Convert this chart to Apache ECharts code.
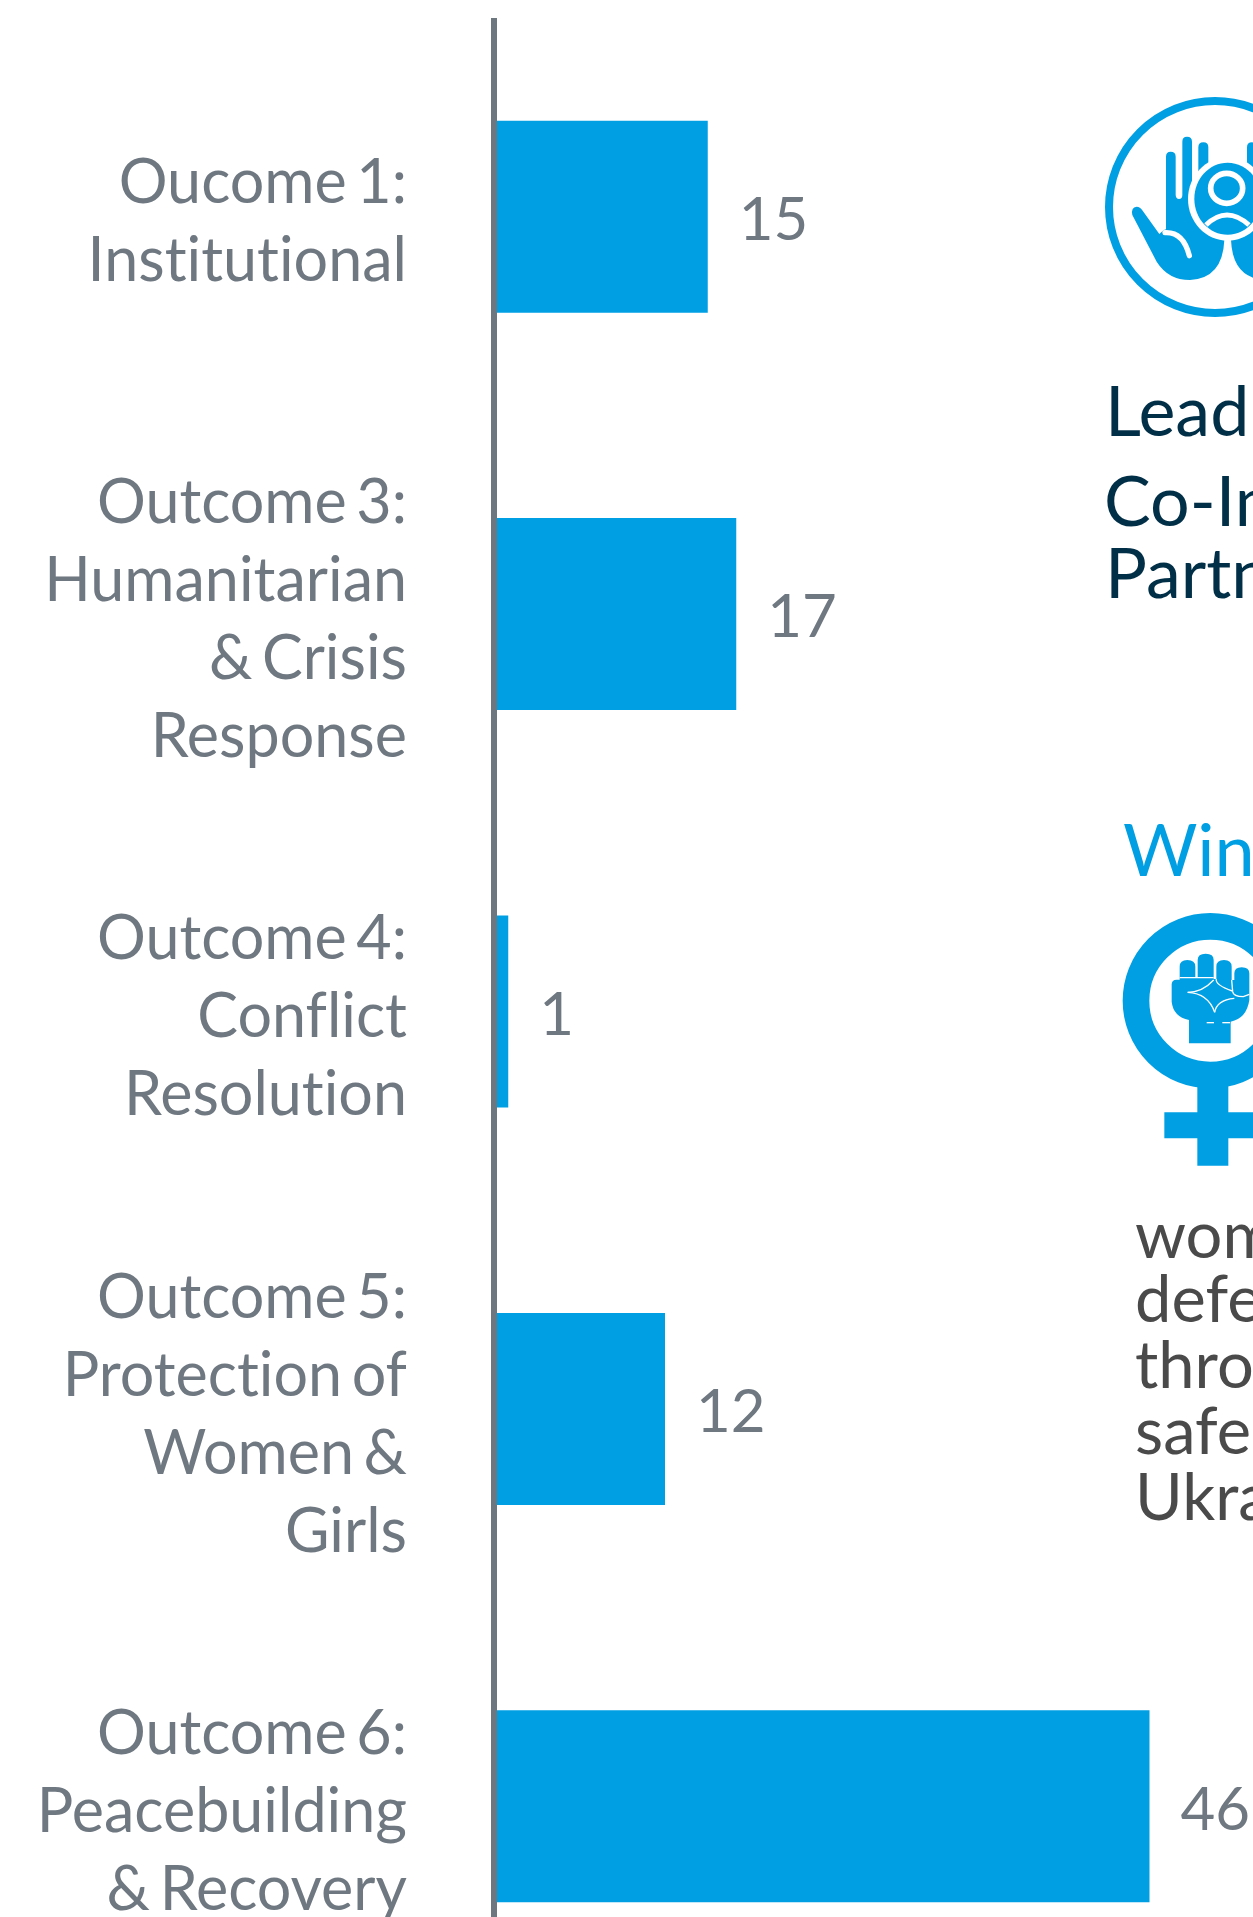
<!DOCTYPE html>
<html>
<head>
<meta charset="utf-8">
<style>html,body{margin:0;padding:0;background:#fff;overflow:hidden}#c{width:1253px;height:1917px}</style>
<script src="https://cdn.jsdelivr.net/npm/echarts@6/dist/echarts.min.js"></script>
</head>
<body>
<div id="c"></div>
<script>
const categories = [
  'Oucome 1:\nInstitutional',
  'Outcome 3:\nHumanitarian\n& Crisis\nResponse',
  'Outcome 4:\nConflict\nResolution',
  'Outcome 5:\nProtection of\nWomen &\nGirls',
  'Outcome 6:\nPeacebuilding\n& Recovery'
];
const values = [15, 17, 1, 12, 46];

const BLUE = '#009fe3', GREY = '#6f7881', FONT = 'Lato';

// The reference sets its text without the "ti" ligature and with a narrow word space.
const ctxProto = CanvasRenderingContext2D.prototype, rawFillText = ctxProto.fillText;
ctxProto.fillText = function () { this.letterSpacing = '0.01px'; this.wordSpacing = '-6px'; return rawFillText.apply(this, arguments); };

let shapeCount = 0;
function pathEl(d, style) {
  const name = 'iconShape' + (shapeCount++);
  echarts.graphic.registerShape(name, echarts.graphic.extendPath(d, {}));
  return { type: name, style };
}

const handPath = 'M97,375 Q92,352 110,350 Q120,350 128,362 L178,432 Q190,420 198,418 L198,200 Q198,185 212,185 Q227,185 227,200 L227,315 Q228,327 237,327 Q247,327 247,315 L247,155 Q247,140 261,140 Q276,140 276,155 L276,300 L295,260 L295,172 Q295,157 310,157 Q325,157 325,172 L325,240 L373,400 L373,450 Q368,565 270,570 Q205,570 170,515 Z';
const slitPath = 'M195,428 Q250,425 268,497';

function hand(mirror) {
  return { type: 'group', x: mirror ? 1100 + 766 / 3 : 1100, y: 90, scaleX: mirror ? -1 / 3 : 1 / 3, scaleY: 1 / 3, children: [
    pathEl(handPath, { fill: BLUE }),
    pathEl(slitPath, { fill: null, stroke: '#fff', lineWidth: 16, lineCap: 'round' })
  ]};
}

const fistPath = 'M170,238 Q170,224 185,224 L194,224 L194,185 Q194,165 217,165 Q241,165 241,185 L241,218 L248,218 L248,165 Q248,146 272,146 Q296,146 296,165 L296,222 L304,222 L304,185 Q304,165 327,165 Q350,165 350,185 L350,225 L358,225 L358,205 Q358,187 380,187 Q403,187 403,205 L403,285 Q395,340 347,350 L347,415 L222,415 L222,345 Q175,335 170,290 Z';
const fistLines = [
  'M194,218 L296,218', 'M218,262 Q262,262 296,225', 'M218,262 Q280,265 299,322',
  'M299,322 Q305,285 358,280', 'M304,222 Q300,240 352,258', 'M350,225 L353,260 Q355,275 385,275 L403,268',
  'M275,353 L297,353', 'M322,353 L345,353'
];

function txt(t, x, baseline, size, color) {
  return { type: 'text', x, y: baseline + 0.18 * size, silent: true, style: { text: t, x: 0, y: 0, fill: color, font: size + 'px ' + FONT, textAlign: 'left', textVerticalAlign: 'bottom' } };
}

const chart = echarts.init(document.getElementById('c'), null, { renderer: 'canvas' });
chart.setOption({
  animation: false,
  backgroundColor: '#fff',
  grid: [
    { left: 494, top: 18, width: 712.5, height: 1987, outerBoundsMode: 'none' },
    { left: 494, top: 24, width: 712.5, height: 1987, outerBoundsMode: 'none' }
  ],
  xAxis: [
    { type: 'value', gridIndex: 0, min: 0, max: 50, interval: 10, show: false },
    { type: 'value', gridIndex: 1, min: 0, max: 50, interval: 10, show: false }
  ],
  yAxis: [
    {
      type: 'category', gridIndex: 0, inverse: true, data: categories, z: 3,
      axisLine: { show: true, lineStyle: { color: '#6d7780', width: 6, cap: 'butt' } },
      axisTick: { show: false }, axisLabel: { show: false }
    },
    {
      type: 'category', gridIndex: 1, inverse: true, data: categories,
      axisLine: { show: false }, axisTick: { show: false },
      axisLabel: { interval: 0, margin: 87, color: GREY, fontFamily: FONT, fontSize: 61, lineHeight: 78, align: 'right', verticalAlign: 'middle' }
    }
  ],
  series: [{
    type: 'bar', xAxisIndex: 0, yAxisIndex: 0, data: values, barWidth: 192,
    itemStyle: { color: BLUE },
    label: { show: true, position: 'right', distance: 31, offset: [0, 4], color: GREY, fontFamily: FONT, fontSize: 60 }
  }],
  graphic: [
    { type: 'circle', shape: { cx: 1215, cy: 207, r: 106 }, style: { fill: null, stroke: BLUE, lineWidth: 8 } },
    hand(false), hand(true),
    { type: 'group', x: 1100, y: 90, scaleX: 1 / 3, scaleY: 1 / 3, children: [
      { type: 'ellipse', shape: { cx: 383, cy: 327, rx: 119, ry: 125 }, style: { fill: '#fff' } },
      { type: 'ellipse', shape: { cx: 383, cy: 326, rx: 100, ry: 108 }, style: { fill: BLUE } },
      { type: 'ellipse', shape: { cx: 380, cy: 295, rx: 48, ry: 45 }, style: { fill: BLUE, stroke: '#fff', lineWidth: 17 } },
      pathEl('M318,405 Q380,345 447,405', { fill: null, stroke: '#fff', lineWidth: 15 })
    ]},
    { type: 'group', x: 1115, y: 905, scaleX: 1 / 3, scaleY: 1 / 3, children: [
      { type: 'circle', shape: { cx: 286, cy: 287, r: 223 }, style: { fill: null, stroke: BLUE, lineWidth: 80 } },
      { type: 'rect', shape: { x: 247, y: 530, width: 93, height: 252 }, style: { fill: BLUE } },
      { type: 'rect', shape: { x: 148, y: 622, width: 291, height: 78 }, style: { fill: BLUE } },
      pathEl(fistPath, { fill: BLUE }),
      ...fistLines.map(p => pathEl(p, { fill: null, stroke: '#fff', lineWidth: 4 }))
    ]},
    txt('Lead', 1105, 436, 70, '#002f47'),
    txt('Co-Im', 1104, 526, 70, '#002f47'),
    txt('Partn', 1105, 598, 70, '#002f47'),
    txt('Win', 1123, 876, 72, BLUE),
    txt('wom', 1135, 1258, 65, '#4a4a4a'),
    txt('defe', 1135, 1322, 65, '#4a4a4a'),
    txt('thro', 1135, 1388, 65, '#4a4a4a'),
    txt('safe', 1135, 1454, 65, '#4a4a4a'),
    txt('Ukra', 1135, 1520, 65, '#4a4a4a')
  ]
});
</script>
</body>
</html>
